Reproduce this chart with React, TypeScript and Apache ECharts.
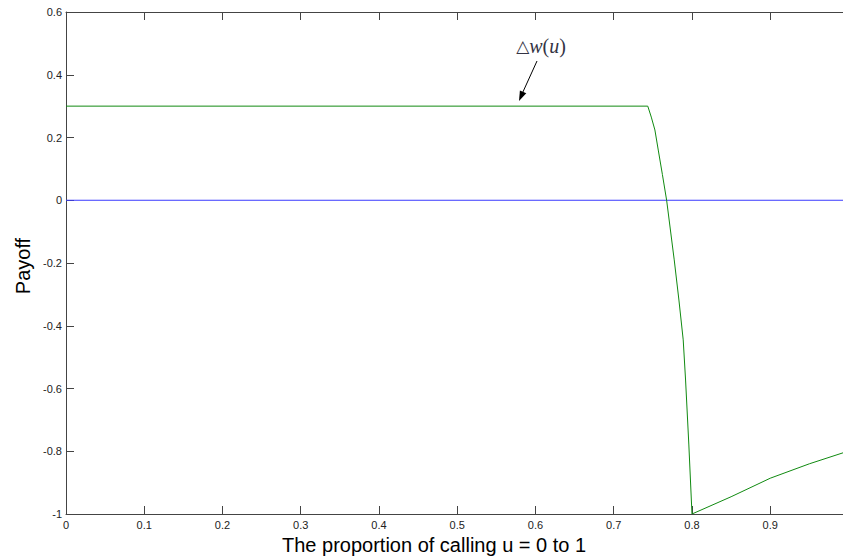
import React, { useEffect, useRef } from "react";
import * as echarts from "echarts";

// Green curve: Δw(u) against proportion u
const curveU = [0, 0.7435, 0.748, 0.7526, 0.7569, 0.7622, 0.7676, 0.7773, 0.7833, 0.7888, 0.7918, 0.796, 0.8, 0.85, 0.9, 0.95, 0.993];
const curveW = [0.3, 0.3, 0.265, 0.224, 0.16, 0.082, 0.0, -0.19, -0.318, -0.445, -0.573, -0.78, -1.0, -0.945, -0.886, -0.84, -0.805];
// Blue zero line
const zeroU = [0, 0.993];
const zeroV = [0, 0];

const X_MIN = 0;
const X_MAX = 0.993;
const Y_MIN = -1;
const Y_MAX = 0.6;

const FONT = "Liberation Sans";
const AXIS_COLOR = "#444444";

function fmt(v: number): string {
  const r = Math.round(v * 10) / 10;
  return String(r);
}

export default function App() {
  const ref = useRef<HTMLDivElement>(null);
  useEffect(() => {
    if (!ref.current) return;
    const chart = echarts.init(ref.current, undefined, { renderer: "svg" });
    const tickCommon = {
      axisLine: { show: true, onZero: false, lineStyle: { color: AXIS_COLOR, width: 1 } },
      axisTick: { show: true, inside: true, length: 8, lineStyle: { color: AXIS_COLOR, width: 1 } },
      splitLine: { show: false },
    };
    chart.setOption({
      animation: false,
      backgroundColor: "#ffffff",
      grid: { left: 66, top: 12, right: 0, bottom: 46, containLabel: false },
      xAxis: [
        {
          type: "value",
          min: X_MIN,
          max: X_MAX,
          interval: 0.1,
          position: "bottom",
          ...tickCommon,
          axisLabel: {
            color: "#222222",
            fontSize: 11,
            fontFamily: FONT,
            margin: 5,
            showMaxLabel: false,
            formatter: (v: number) => (v > 0.95 ? "" : fmt(v)),
          },
        },
        {
          type: "value",
          min: X_MIN,
          max: X_MAX,
          interval: 0.1,
          position: "top",
          ...tickCommon,
          axisLabel: { show: false },
        },
      ],
      yAxis: [
        {
          type: "value",
          min: Y_MIN,
          max: Y_MAX,
          interval: 0.2,
          position: "left",
          ...tickCommon,
          axisLabel: {
            color: "#222222",
            fontSize: 11,
            fontFamily: FONT,
            margin: 4,
            formatter: (v: number) => fmt(v),
          },
        },
      ],
      series: [
        {
          type: "line",
          data: zeroU.map((u, i) => [u, zeroV[i]]),
          showSymbol: false,
          lineStyle: { color: "#3a3aff", width: 1 },
          clip: true,
          silent: true,
        },
        {
          type: "line",
          data: curveU.map((u, i) => [u, curveW[i]]),
          showSymbol: false,
          lineStyle: { color: "#108a10", width: 1 },
          clip: true,
          silent: true,
        },
      ],
      graphic: [
        {
          type: "text",
          x: 282,
          y: 545,
          style: {
            text: "The proportion of calling u = 0 to 1",
            align: "left",
            verticalAlign: "middle",
            fill: "#000000",
            fontSize: 20,
            fontFamily: FONT,
          },
        },
        {
          type: "text",
          x: 23,
          y: 266,
          rotation: Math.PI / 2,
          style: {
            text: "Payoff",
            align: "center",
            verticalAlign: "middle",
            fill: "#000000",
            fontSize: 20,
            fontFamily: FONT,
          },
        },
        {
          type: "text",
          x: 541,
          y: 46,
          style: {
            text: "{t|△}{i|w}{n|(}{i|u}{n|)}",
            align: "center",
            verticalAlign: "middle",
            fill: "#333344",
            rich: {
              t: { fontFamily: "DejaVu Sans", fontSize: 17, fill: "#333344" },
              n: { fontFamily: "Liberation Serif", fontSize: 20, fill: "#333344" },
              i: { fontFamily: "Liberation Serif", fontSize: 20, fontStyle: "italic", fill: "#333344" },
            },
          },
        },
        {
          type: "line",
          shape: { x1: 537, y1: 61, x2: 522, y2: 94 },
          style: { stroke: "#000000", lineWidth: 1 },
        },
        {
          type: "polygon",
          shape: { points: [[519, 101], [526.3, 93.3], [519.9, 90.5]] },
          style: { fill: "#000000" },
        },
      ],
    });
    return () => chart.dispose();
  }, []);
  return (
    <div
      ref={ref}
      style={{ position: "fixed", left: 0, top: 0, width: 843, height: 560, background: "#fff" }}
    />
  );
}
